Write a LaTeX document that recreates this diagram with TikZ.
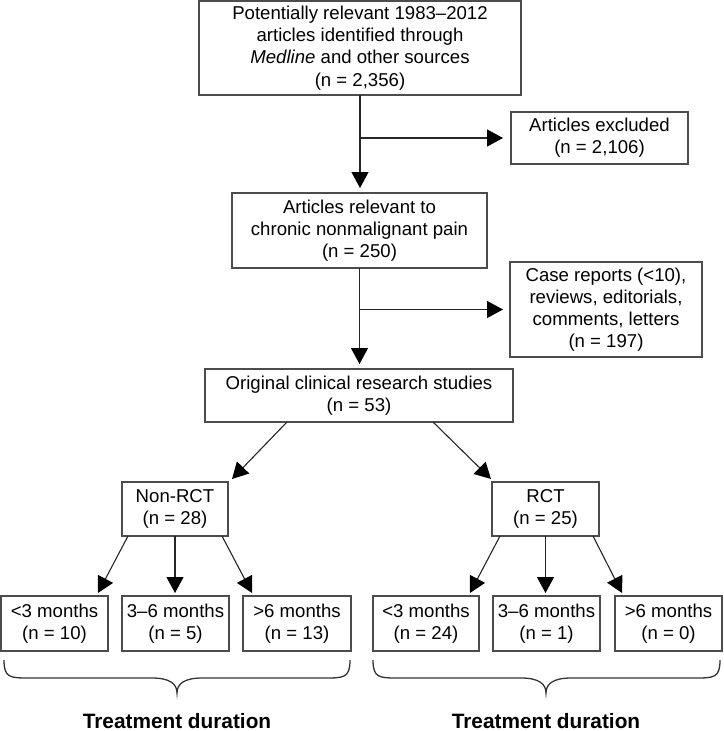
\documentclass[tikz,border=0pt]{standalone}
\usepackage{fontspec}
\setmainfont{Liberation Sans}
\usetikzlibrary{arrows.meta,calc}
\begin{document}
\begin{tikzpicture}[x=1pt,y=-1pt,
  box/.style={draw=black!70,line width=1.3pt,inner sep=0pt,outer sep=0pt,align=center,
    font=\fontsize{18.6}{22.2}\selectfont},
  arr/.style={draw=black!85,line width=1.1pt,-{Triangle[length=16pt,width=17pt,color=black]}},
  brc/.style={draw=black!80,line width=1.3pt},
  lbl/.style={font=\fontsize{20.8}{24}\selectfont\bfseries,inner sep=0pt}]
\useasboundingbox (0,0) rectangle (723,731);
% boxes
\node[box,minimum width=322pt,minimum height=94pt] (b1) at (360,48)
  {Potentially relevant 1983--2012\\articles identified through\\\textit{Medline} and other sources\\(n = 2,356)};
\node[box,minimum width=177pt,minimum height=52pt] (excl) at (599.5,138)
  {Articles excluded\\(n = 2,106)};
\node[box,minimum width=255pt,minimum height=75pt] (b2) at (359.5,230.5)
  {Articles relevant to\\chronic nonmalignant pain\\(n = 250)};
\node[box,minimum width=192pt,minimum height=95pt] (case) at (606,309.5)
  {Case reports (<10),\\reviews, editorials,\\comments, letters\\(n = 197)};
\node[box,minimum width=308pt,minimum height=53pt] (b3) at (359,395.5)
  {Original clinical research studies\\(n = 53)};
\node[box,minimum width=106pt,minimum height=54pt] (nonrct) at (175,509)
  {Non-RCT\\(n = 28)};
\node[box,minimum width=107pt,minimum height=54pt] (rct) at (545.5,509)
  {RCT\\(n = 25)};
\node[box,minimum width=107pt,minimum height=55pt] (m1) at (54.5,623.5) {<3 months\\(n = 10)};
\node[box,minimum width=107pt,minimum height=55pt] (m2) at (175.5,623.5) {3--6 months\\(n = 5)};
\node[box,minimum width=108pt,minimum height=55pt] (m3) at (297,623.5) {>6 months\\(n = 13)};
\node[box,minimum width=106pt,minimum height=55pt] (m4) at (426,623.5) {<3 months\\(n = 24)};
\node[box,minimum width=107pt,minimum height=55pt] (m5) at (546.5,623.5) {3--6 months\\(n = 1)};
\node[box,minimum width=107pt,minimum height=55pt] (m6) at (668.5,623.5) {>6 months\\(n = 0)};
% junctions
\coordinate (j1) at (b1.south |- excl.west);
\coordinate (j2) at (b2.south |- case.west);
% connectors
\draw[arr,shorten >=5pt] (b1.south) -- (b1.south |- b2.north);
\draw[arr,shorten >=8pt] (j1) -- (excl.west);
\draw[arr,shorten >=5pt] (b2.south) -- (b2.south |- b3.north);
\draw[arr,shorten >=7pt] (j2) -- (j2 -| case.west);
\draw[arr] ($(b3.south west)+(82,0)$) -- ($(nonrct.north east)+(4,-3)$);
\draw[arr] ($(b3.south east)+(-80,0)$) -- ($(rct.north west)+(-1,-3)$);
\draw[arr] ($(nonrct.south west)+(6,0)$) -- ($(m1.north east)+(-10,-3)$);
\draw[arr,shorten >=3pt] (nonrct.south) -- (nonrct.south |- m2.north);
\draw[arr] ($(nonrct.south east)+(-6,0)$) -- ($(m3.north west)+(9,-3)$);
\draw[arr] ($(rct.south west)+(8,0)$) -- ($(m4.north east)+(-9,-3)$);
\draw[arr,shorten >=3pt] (rct.south) -- (rct.south |- m5.north);
\draw[arr] ($(rct.south east)+(-6,0)$) -- ($(m6.north west)+(7,-3)$);
% braces
\draw[brc] (4,660) .. controls (4,678) and (10,678) .. (30,678) -- (152,678)
  .. controls (170,678) and (177,684) .. (177,693)
  .. controls (177,684) and (184,678) .. (202,678) -- (324,678)
  .. controls (344,678) and (350,678) .. (350,660);
\draw[brc] (373,660) .. controls (373,678) and (379,678) .. (399,678) -- (521,678)
  .. controls (539,678) and (546,684) .. (546,693)
  .. controls (546,684) and (553,678) .. (571,678) -- (694,678)
  .. controls (714,678) and (720,678) .. (720,660);
% labels
\node[lbl,anchor=base] (td1) at (177,728) {Treatment duration};
\node[lbl,anchor=base] (td2) at (546,728) {Treatment duration};
\end{tikzpicture}
\end{document}
